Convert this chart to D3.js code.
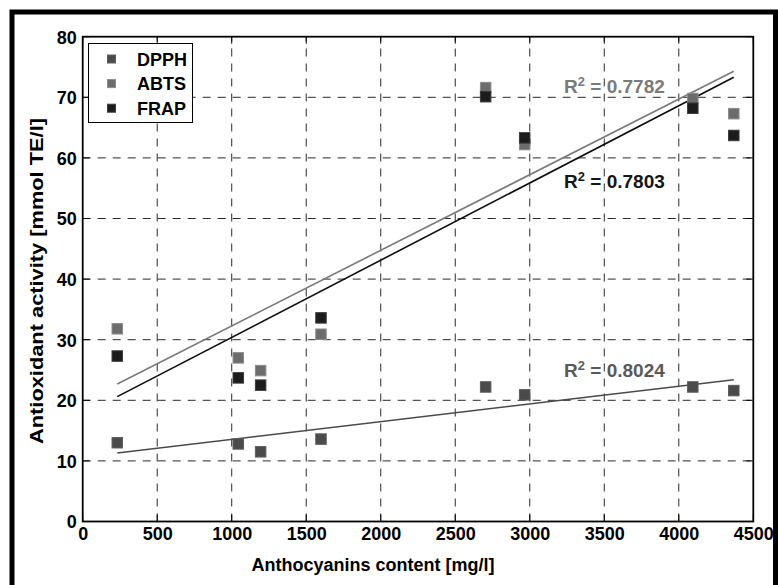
<!DOCTYPE html>
<html>
<head>
<meta charset="utf-8">
<script src="https://cdn.jsdelivr.net/npm/d3@7"></script>
<style>
  html, body { margin: 0; padding: 0; background: #fff; }
  svg { display: block; }
  text { font-family: "Liberation Sans", Arial, Helvetica, sans-serif; font-weight: bold; }
</style>
</head>
<body>
<script>
// ---- data ----
const seriesNames = ["DPPH", "ABTS", "FRAP"];
const xVals = [232, 1044, 1194, 1599, 2704, 2966, 4094, 4369];
const dpph = [13.0, 12.8, 11.5, 13.6, 22.2, 20.9, 22.2, 21.6];
const abts = [31.8, 27.0, 24.9, 30.9, 71.6, 62.2, 69.8, 67.3];
const frap = [27.3, 23.7, 22.5, 33.6, 70.1, 63.3, 68.2, 63.7];
const trendX = [232, 4369];
const dpphTrend = [11.3, 23.4];
const abtsTrend = [22.7, 74.3];
const frapTrend = [20.6, 73.3];
const r2Labels = ["0.8024", "0.7782", "0.7803"];
const r2At = [[3230, 23.85], [3230, 70.7], [3230, 55.0]];
const xTicks = [0, 500, 1000, 1500, 2000, 2500, 3000, 3500, 4000, 4500];
const yTicks = [0, 10, 20, 30, 40, 50, 60, 70, 80];

// ---- style ----
const W = 778, H = 585;
const fills = ["#4b4b4b", "#6c6c6c", "#1c1c1c"];
const strokes = ["#5e5e5e", "#8c8c8c", "#3c3c3c"];
const lineCols = ["#4a4a4a", "#7a7a7a", "#0e0e0e"];
const r2Cols = ["#5a5a5a", "#7a7a7a", "#151515"];

const svg = d3.select("body").append("svg").attr("width", W).attr("height", H);

// outer frame
svg.append("path")
  .attr("d", `M12,${H + 10} L12,12 L775.5,12 L775.5,${H + 10}`)
  .attr("fill", "none").attr("stroke", "#000").attr("stroke-width", 5);

const pLeft = 82.7, pRight = 753.3, pTop = 36.7, pBottom = 521.5;
const x = d3.scaleLinear().domain([0, 4500]).range([pLeft, pRight]);
const y = d3.scaleLinear().domain([0, 80]).range([pBottom, pTop]);

// grid
const grid = svg.append("g").attr("stroke", "#2a2a2a").attr("stroke-width", 1)
  .attr("stroke-dasharray", "8,7").attr("fill", "none");
xTicks.filter(t => t > 0 && t < 4500).forEach(t => {
  grid.append("line").attr("x1", x(t)).attr("x2", x(t)).attr("y1", pBottom).attr("y2", pTop);
});
yTicks.filter(t => t > 0 && t < 80).forEach(t => {
  grid.append("line").attr("x1", pLeft).attr("x2", pRight).attr("y1", y(t)).attr("y2", y(t));
});

// axes
const xAxis = d3.axisBottom(x).tickValues(xTicks).tickSize(0).tickPadding(6).tickFormat(d3.format("d"));
const yAxis = d3.axisLeft(y).tickValues(yTicks).tickSize(0).tickPadding(6).tickFormat(d3.format("d"));
const gx = svg.append("g").attr("transform", `translate(0,${pBottom})`).call(xAxis);
const gy = svg.append("g").attr("transform", `translate(${pLeft},0)`).call(yAxis);
[gx, gy].forEach(g => {
  g.select(".domain").remove();
  g.selectAll("text").attr("font-size", 18).attr("fill", "#000")
    .attr("font-family", "'Liberation Sans', Arial, sans-serif").attr("font-weight", "bold");
});
gy.selectAll("text").attr("dy", "0.36em");

// inward tick marks
const tk = svg.append("g").attr("stroke", "#000").attr("stroke-width", 1);
xTicks.forEach(t => {
  tk.append("line").attr("x1", x(t)).attr("x2", x(t)).attr("y1", pBottom).attr("y2", pBottom - 7);
  tk.append("line").attr("x1", x(t)).attr("x2", x(t)).attr("y1", pTop).attr("y2", pTop + 7);
});
yTicks.forEach(t => {
  tk.append("line").attr("x1", pLeft).attr("x2", pLeft + 7).attr("y1", y(t)).attr("y2", y(t));
  tk.append("line").attr("x1", pRight).attr("x2", pRight - 7).attr("y1", y(t)).attr("y2", y(t));
});

// plot box
svg.append("rect").attr("x", pLeft).attr("y", pTop).attr("width", pRight - pLeft).attr("height", pBottom - pTop)
  .attr("fill", "none").attr("stroke", "#000").attr("stroke-width", 1.8);

// trend lines
const trends = [dpphTrend, abtsTrend, frapTrend];
const line = d3.line().x(d => x(d[0])).y(d => y(d[1]));
trends.forEach((tr, i) => {
  svg.append("path").datum(trendX.map((xv, j) => [xv, tr[j]]))
    .attr("d", line).attr("fill", "none").attr("stroke", lineCols[i]).attr("stroke-width", 1.6);
});

// points
const series = [dpph, abts, frap];
const sq = 10.5;
series.forEach((vals, i) => {
  svg.append("g").selectAll("rect").data(vals.map((v, j) => [xVals[j], v])).join("rect")
    .attr("x", d => x(d[0]) - sq / 2).attr("y", d => y(d[1]) - sq / 2)
    .attr("width", sq).attr("height", sq)
    .attr("fill", fills[i]).attr("stroke", strokes[i]).attr("stroke-width", 1);
});

// R² labels
r2Labels.forEach((lab, i) => {
  const t = svg.append("text").attr("x", x(r2At[i][0])).attr("y", y(r2At[i][1]))
    .attr("font-size", 19).attr("fill", r2Cols[i]);
  t.append("tspan").text("R");
  t.append("tspan").attr("font-size", 13).attr("dy", -7).text("2");
  t.append("tspan").attr("dy", 7).text(" = " + lab);
});

// legend
const lg = svg.append("g");
lg.append("rect").attr("x", 88.5).attr("y", 43.5).attr("width", 104).attr("height", 79)
  .attr("fill", "#fff").attr("stroke", "#000").attr("stroke-width", 1);
const lsq = 8;
seriesNames.forEach((n, i) => {
  const cy = 59 + i * 24.6;
  lg.append("rect").attr("x", 111.5 - lsq / 2).attr("y", cy - lsq / 2).attr("width", lsq).attr("height", lsq)
    .attr("fill", fills[i]).attr("stroke", strokes[i]);
  lg.append("text").attr("x", 137).attr("y", cy + 6.5).attr("font-size", 18).attr("fill", "#000").text(n);
});

// axis titles
svg.append("text").attr("x", 373).attr("y", 571).attr("text-anchor", "middle")
  .attr("font-size", 18).attr("fill", "#000").text("Anthocyanins content [mg/l]");
svg.append("text").attr("transform", "translate(43,281) rotate(-90)").attr("text-anchor", "middle")
  .attr("font-size", 19).attr("fill", "#000")
  .attr("textLength", 326).attr("lengthAdjust", "spacingAndGlyphs")
  .text("Antioxidant activity [mmol TE/l]");
</script>
</body>
</html>
